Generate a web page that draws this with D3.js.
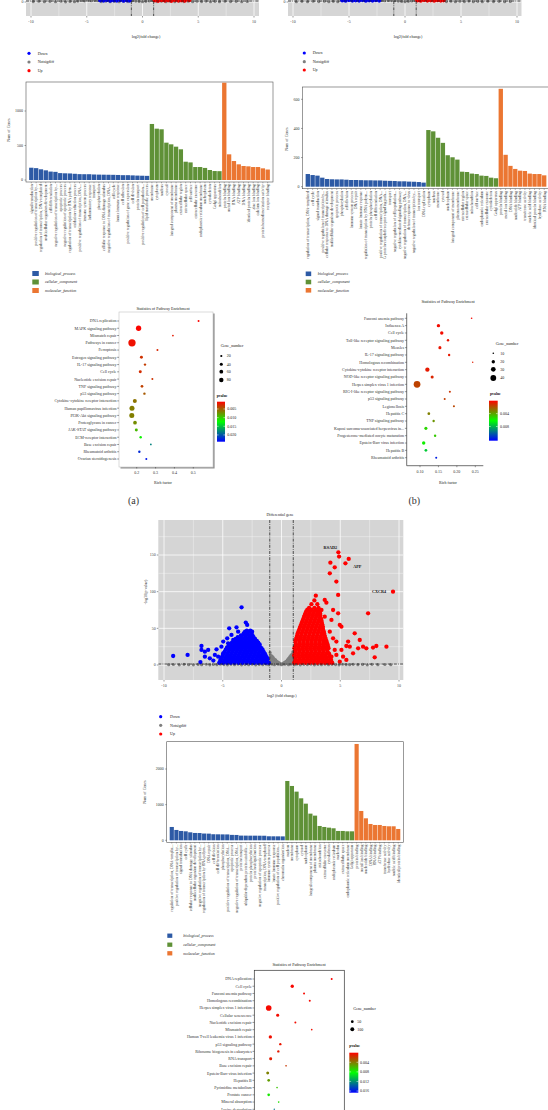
<!DOCTYPE html>
<html><head><meta charset="utf-8">
<script src="https://cdn.jsdelivr.net/npm/d3@7/dist/d3.min.js"></script>
<style>html,body{margin:0;padding:0;background:#fff;}svg{display:block;}</style>
</head><body>
<script>
// ================= DATA =================
const degNames = ["Down","Notsigdiff","Up"];
const goNames = ["biological_process","cellular_component","molecular_function"];

const volcXMajor = [-10,-5,0,5,10], volcXMinor = [-7.5,-2.5,2.5,7.5];
const volcYMajor = [0,50,100,150], volcYMinor = [25,75,125,175];

// top strips (only bottom of the two upper volcano plots is visible)
const stripA_grey = [[-9.8,0.6],[-9.3,1.0],[-8.8,0.4],[-8.3,0.9],[-7.8,0.5],[-7.3,1.1],[-6.9,0.3],[-6.5,0.8],[-6.1,0.5],[-5.8,1.2],[-5.5,2.2],[-5.2,1.6],[-4.9,2.4],[-4.6,1.8],[-4.3,2.3],[-4.0,1.9],[-3.7,0.6],[-3.3,1.0],[-2.9,0.5],[-2.5,0.9],[-2.1,0.4],[-1.7,1.0],[-1.3,0.6],[-0.9,1.8],[-0.6,1.3],[-0.3,0.8],[0,0.5],[0.3,0.9],[0.6,1.4],[0.9,2.0],[1.3,0.6],[1.7,1.0],[2.1,0.4],[2.5,0.9],[2.9,0.5],[3.3,1.0],[3.7,0.6],[4.1,1.1],[4.5,0.5],[4.9,1.0],[5.3,0.6],[5.7,1.2],[6.1,0.4],[6.5,0.9],[6.9,0.5],[7.4,1.0],[7.9,0.6],[8.4,0.9],[8.9,0.4],[9.4,0.8]];
const stripA_down = [[-3.8,2.3],[-3.5,1.9],[-3.2,2.6],[-2.9,1.8],[-2.6,2.4],[-2.3,2.0],[-2.0,2.7],[-1.7,1.8],[-1.4,2.4],[-1.15,2.0]];
const stripA_up = [[1.1,2.1],[1.4,1.7],[1.7,2.5],[2.0,1.9],[2.3,2.4],[2.6,1.7],[2.9,2.6],[3.2,2.0],[3.5,2.3],[3.8,1.8],[4.2,2.5]];
const stripB_grey = [[-9.7,0.5],[-9.2,0.9],[-8.7,0.4],[-8.2,1.0],[-7.7,0.6],[-7.2,1.1],[-6.8,0.4],[-6.4,0.9],[-6.0,0.5],[-2.1,2.1],[-1.8,1.7],[-1.5,2.3],[-1.2,1.9],[-0.9,1.8],[-0.6,1.3],[-0.3,0.8],[0,0.5],[0.3,0.9],[0.6,1.4],[0.9,2.0],[3.7,0.6],[4.1,1.1],[4.5,0.5],[4.9,1.0],[5.3,0.6],[5.7,1.2],[6.1,0.4],[6.5,0.9],[6.9,0.5],[7.4,1.0],[7.9,0.6],[8.4,0.9],[8.9,0.4],[9.4,0.8]];
const stripB_down = [[-5.6,2.2],[-5.3,1.8],[-5.0,2.6],[-4.7,1.9],[-4.4,2.4],[-4.1,2.0],[-3.8,2.7],[-3.5,1.8],[-3.2,2.4],[-2.9,2.0],[-2.6,2.5],[-2.3,1.9]];
const stripB_up = [[1.1,2.2],[1.4,1.8],[1.7,2.6],[2.0,1.9],[2.3,2.4],[2.6,1.8],[2.9,2.5],[3.2,2.0],[3.45,2.3]];

// central volcano plot  [log2FC, -log10 p]
const volcGrey = [[-9.6,0.4],[-9.2,0.7],[-8.7,0.3],[-8.3,0.9],[-7.9,0.5],[-7.5,0.2],[-7.1,0.8],[-6.8,0.4],[-6.4,1.0],[-6.1,0.3],[-5.8,0.7],[-5.5,0.4],[-5.2,1.0],[-4.9,0.6],[-4.6,0.2],[-4.3,0.9],[-4.0,0.5],[-3.7,1.1],[-3.4,0.3],[-3.1,0.8],[-2.8,0.5],[-2.5,1.1],[-2.2,0.3],[-1.9,0.8],[-1.6,0.5],[-1.3,1.0],[-1.1,0.4],
 [1.1,0.5],[1.3,1.0],[1.6,0.3],[1.9,0.9],[2.2,0.6],[2.5,1.1],[2.8,0.3],[3.1,0.8],[3.4,0.5],[3.7,1.0],[4.0,0.4],[4.3,0.9],[4.6,0.6],[4.9,0.2],[5.2,1.0],[5.5,0.6],[5.8,0.4],[6.1,0.9],[6.5,0.5],[6.9,0.8],[7.3,0.3],[7.7,0.9],[8.2,0.5],[8.8,0.7],[9.3,0.4],
 [-0.95,14],[-0.9,11],[-0.85,9],[-0.8,12],[-0.75,8],[-0.7,10],[-0.65,6],[-0.6,8],[-0.55,5],[-0.5,7],[-0.45,4],[-0.4,5],[-0.35,3],[-0.3,4],[-0.25,2],[-0.2,3],[-0.15,1.5],[-0.1,2],[-0.05,1],[0,0.5],[0.05,1],[0.1,2],[0.15,1.5],[0.2,3],[0.25,2.5],[0.3,4],[0.35,3.5],[0.4,5],[0.45,4.5],[0.5,7],[0.55,6],[0.6,9],[0.65,7],[0.7,11],[0.75,9],[0.8,13],[0.85,10],[0.9,15],[0.95,12],[-0.9,4],[-0.7,3],[-0.5,2],[-0.3,1],[0.3,1],[0.5,2],[0.7,3],[0.9,5],[-0.8,1],[0.8,1],[0.6,0.5],[-0.6,0.5],[0.97,18],[-0.97,17],
 [-0.9,7],[-0.75,5],[-0.6,3.5],[0.6,3.5],[0.75,5.5],[0.9,8],[0.85,4],[-0.85,3]];
const volcDownRows = [
 [3,[-5.3,-4.97,-4.64,-4.31,-3.98,-3.65,-3.32,-2.99,-2.66,-2.33,-2.0,-1.67,-1.34,-1.08]],
 [5.5,[-5.22,-4.89,-4.56,-4.23,-3.9,-3.57,-3.24,-2.91,-2.58,-2.25,-1.92,-1.59,-1.26]],
 [8,[-5.15,-4.81,-4.48,-4.15,-3.82,-3.49,-3.16,-2.83,-2.5,-2.17,-1.84,-1.51,-1.18]],
 [10.5,[-5.08,-4.73,-4.4,-4.07,-3.74,-3.41,-3.08,-2.75,-2.42,-2.09,-1.76,-1.43,-1.25]],
 [13,[-5.0,-4.65,-4.32,-3.99,-3.66,-3.33,-3.0,-2.67,-2.34,-2.01,-1.68,-1.35]],
 [15.5,[-4.92,-4.58,-4.25,-3.92,-3.59,-3.26,-2.93,-2.6,-2.27,-1.94,-1.6,-1.42]],
 [18,[-4.85,-4.5,-4.17,-3.84,-3.51,-3.18,-2.85,-2.52,-2.19,-1.86,-1.52]],
 [20.5,[-4.76,-4.41,-4.08,-3.75,-3.42,-3.09,-2.76,-2.43,-2.1,-1.77,-1.6]],
 [23,[-4.66,-4.32,-3.99,-3.66,-3.33,-3.0,-2.67,-2.34,-2.01,-1.7]],
 [25.5,[-4.52,-4.17,-3.84,-3.51,-3.18,-2.85,-2.52,-2.19,-1.86]],
 [28,[-4.38,-4.02,-3.69,-3.36,-3.03,-2.7,-2.37,-2.04,-1.86]],
 [30.5,[-4.22,-3.87,-3.54,-3.21,-2.88,-2.55,-2.22,-1.98]],
 [33,[-4.06,-3.72,-3.39,-3.06,-2.73,-2.4,-2.1]],
 [35.5,[-3.9,-3.55,-3.22,-2.89,-2.56,-2.25]],
 [38,[-3.72,-3.38,-3.05,-2.72,-2.38]],
 [40.5,[-3.45,-3.12,-2.79,-2.47]],
 [43,[-3.22,-2.89,-2.56]],
 [45.5,[-3.1,-2.8,-2.5]],
 [47,[-2.95,-2.65]]];
const volcDownOut = [[-3.40,78.7],[-3.04,57.8],[-2.92,54.6],[-3.83,51.4],[-4.45,50],[-3.69,45.5],[-4.26,41],[-4.62,36.4],[-4.96,31.9],[-4.54,29.6],[-5.11,25],[-4.62,24.1],[-5.53,21.4],[-5.67,13.7],[-6.24,20.5],[-6.52,18.2],[-6.81,25.9],[-6.81,20.5],[-6.10,9.1],[-6.52,11.4],[-7.99,13.7],[-9.22,12.3],[-5.39,11.4],[-4.96,15.9],[-4.11,34.1],[-5.8,6],[-6.9,4]];
const volcUpRows = [
 [3,[1.08,1.4,1.73,2.06,2.39,2.72,3.05,3.38,3.71,4.04,4.32]],
 [5.5,[1.15,1.48,1.81,2.14,2.47,2.8,3.13,3.46,3.79,4.12]],
 [8,[1.22,1.56,1.89,2.22,2.55,2.88,3.21,3.54,3.87,4.2]],
 [10.5,[1.15,1.49,1.82,2.15,2.48,2.81,3.14,3.47,3.8,4.12]],
 [13,[1.08,1.41,1.74,2.07,2.4,2.73,3.06,3.39,3.72,4.08]],
 [15.5,[1.14,1.47,1.81,2.15,2.49,2.83,3.17,3.51,3.85,4.05]],
 [18,[1.2,1.54,1.88,2.22,2.56,2.9,3.24,3.58,3.93]],
 [20.5,[1.15,1.49,1.83,2.17,2.51,2.85,3.19,3.53,3.87]],
 [23,[1.1,1.43,1.77,2.1,2.44,2.78,3.11,3.45,3.78,4.0]],
 [25.5,[1.17,1.5,1.85,2.19,2.53,2.87,3.21,3.55,3.88]],
 [28,[1.24,1.58,1.92,2.26,2.6,2.94,3.28,3.62,3.92]],
 [30.5,[1.2,1.55,1.89,2.23,2.57,2.91,3.25,3.59,3.86]],
 [33,[1.18,1.5,1.84,2.18,2.52,2.86,3.2,3.54,3.82]],
 [35.5,[1.25,1.58,1.92,2.26,2.6,2.94,3.28,3.62,3.76]],
 [38,[1.3,1.64,1.98,2.32,2.66,3.0,3.34,3.7]],
 [40.5,[1.34,1.68,2.02,2.36,2.7,3.04,3.38,3.66]],
 [43,[1.38,1.7,2.04,2.38,2.72,3.06,3.4,3.63]],
 [45.5,[1.44,1.78,2.12,2.46,2.8,3.14,3.48,3.6]],
 [48,[1.5,1.84,2.18,2.52,2.86,3.2,3.54]],
 [50.5,[1.56,1.9,2.24,2.58,2.92,3.26,3.52]],
 [53,[1.62,1.95,2.3,2.64,2.98,3.32,3.5]],
 [55.5,[1.68,2.02,2.36,2.7,3.04,3.38,3.46]],
 [58,[1.74,2.08,2.42,2.76,3.1,3.42]],
 [60.5,[1.8,2.14,2.48,2.82,3.16,3.4]],
 [63,[1.86,2.2,2.54,2.88,3.22,3.38]],
 [65.5,[1.92,2.26,2.6,2.94,3.28]],
 [68,[1.98,2.32,2.66,3.0,3.3]],
 [70.5,[2.04,2.38,2.72,3.06,3.28]],
 [73,[2.1,2.44,2.78,3.12,3.27]],
 [75.5,[2.2,2.55,2.9,3.22]],
 [78,[2.35,2.8,3.15]],
 [83,[2.55,3.05]],
 [88,[2.8]]];
const volcUpOut = [[2.92,94.6],[3.68,88.7],[3.82,85],[3.40,75],[3.17,72.8],[4.39,75],[4.82,70.5],[5.10,52.3],[4.96,54.6],[4.25,61.4],[3.68,65.9],[6.23,43.2],[6.66,34.1],[5.67,31.9],[7.37,70.5],[6.52,22.7],[5.81,25],[5.52,25.9],[5.10,20.5],[4.67,13.7],[5.24,11.4],[6.09,15.9],[6.94,25],[7.22,22.7],[7.79,23.7],[8.07,25.9],[8.93,25],[7.93,10.5],[4.16,139.6],[4.53,133.2],[4.11,125],[4.90,147.8],[4.84,153.7],[5.44,138.7],[5.72,144.6],[4.67,113.7],[4.82,95.5],[9.49,100],[4.25,4.6],[4.39,36.4],[4.11,45.5],[4.67,31.9],[3.96,25],[4.53,20.5],[4.96,4.6],[5.52,6.9],[4.25,11.4]];
const volcGenes = ["RSAD2","APP","CXCR4"];
const volcGeneFC = [4.84,5.72,9.49];
const volcGeneLogP = [153.7,144.6,100];

// GO bar chart A
const barA_BP = ["signal transduction","positive regulation of transcription by...","regulation of transcription, DNA-templated","multicellular organism development","cell differentiation","negative regulation of transcription by...","apoptotic process","negative regulation of apoptotic process","regulation of transcription by RNA polym...","oxidation-reduction process","positive regulation of transcription, DNA...","immune system process","inflammatory response","transport","phosphorylation","cellular response to DNA damage stimulus","negative regulation of transcription, DNA...","cell cycle","innate immune response","cell adhesion","positive regulation of gene expression","cell division","protein transport","positive regulation of cell population...","lipid metabolic process"];
const barA_BPn = [178,172,155,140,122,118,100,97,95,90,85,84,84,80,78,77,76,75,73,70,70,67,64,62,60];
const barA_CC = ["membrane","cytoplasm","nucleus","cytosol","integral component of membrane","plasma membrane","extracellular region","extracellular space","cell surface","extracellular exosome","endoplasmic reticulum membrane","nucleoplasm","cytoskeleton","Golgi apparatus","mitochondrion"];
const barA_CCn = [812,744,735,541,517,483,445,265,255,188,188,175,145,130,128];
const barA_MF = ["protein binding","metal ion binding","RNA binding","ATP binding","DNA binding","identical protein binding","zinc ion binding","calcium ion binding","protein homodimerization activity","receptor binding"];
const barA_MFn = [1410,372,275,227,203,198,188,188,169,152];
const barA_ticks = [0,500,1000];

// GO bar chart B
const barB_BP = ["regulation of transcription, DNA-templated","cell cycle","signal transduction","positive regulation of transcription by...","cellular response to DNA damage stimulus","multicellular organism development","apoptotic process","phosphorylation","cell division","immune system process","DNA repair","innate immune response","regulation of transcription by RNA polym...","protein phosphorylation","cell differentiation","positive regulation of transcription, DNA...","G protein-coupled receptor signaling path...","transport","negative regulation of cell population...","cytokine-mediated signaling pathway","negative regulation of transcription, DNA...","defense response to virus","negative regulation of transcription by...","ion transport","DNA replication"];
const barB_BPn = [87,80,76,62,53,51,50,50,48,46,46,45,44,44,43,43,41,40,39,37,37,35,34,32,28];
const barB_CC = ["cytoplasm","nucleus","membrane","cytosol","nucleoplasm","integral component of membrane","plasma membrane","extracellular region","extracellular space","mitochondrion","cell surface","endoplasmic reticulum","extracellular exosome","cytoskeleton","Golgi apparatus"];
const barB_CCn = [389,380,336,301,216,202,186,103,101,90,87,76,74,62,58];
const barB_MF = ["protein binding","metal ion binding","DNA binding","nucleotide binding","ATP binding","transferase activity","nucleic acid binding","identical protein binding","hydrolase activity","RNA binding"];
const barB_MFn = [672,219,143,122,110,108,90,87,87,78];
const barB_ticks = [0,200,400,600];

// GO bar chart C
const barC_BP = ["regulation of transcription, DNA-templat...","positive regulation of transcription by...","signal transduction","cell cycle","cellular response to DNA damage stimulus","multicellular organism development","negative regulation of transcription by...","regulation of transcription by RNA polym...","DNA repair","cell division","cell differentiation","phosphorylation","positive regulation of transcription, DNA...","apoptotic process","negative regulation of transcription, DNA...","protein transport","ubiquitin-dependent protein catabolic...","protein phosphorylation","protein ubiquitination","negative regulation of apoptotic process","transcription, DNA-templated","immune system process","innate immune response","positive regulation of cell population...","chromatin organization"];
const barC_BPn = [374,290,262,252,224,206,204,190,187,170,168,166,165,152,150,132,131,130,130,129,128,113,112,111,110];
const barC_CC = ["nucleus","membrane","cytoplasm","cytosol","nucleoplasm","integral component of membrane","plasma membrane","mitochondrion","extracellular exosome","cytoskeleton","endoplasmic reticulum","nucleolus","extracellular space","endoplasmic reticulum membrane","Golgi apparatus"];
const barC_CCn = [1664,1524,1365,1178,1028,748,692,402,374,355,337,262,262,252,252];
const barC_MF = ["protein binding","metal ion binding","nucleotide binding","DNA binding","RNA binding","ATP binding","transferase activity","hydrolase activity","nucleic acid binding","identical protein binding"];
const barC_MFn = [2702,823,617,458,430,430,402,393,393,318];
const barC_ticks = [0,1000,2000];

// KEGG bubble A
const bubA_path = ["DNA replication","MAPK signaling pathway","Mismatch repair","Pathways in cancer","Ferroptosis","Estrogen signaling pathway","IL-17 signaling pathway","Cell cycle","Nucleotide excision repair","TNF signaling pathway","p53 signaling pathway","Cytokine-cytokine receptor interaction","Human papillomavirus infection","PI3K-Akt signaling pathway","Proteoglycans in cancer","JAK-STAT signaling pathway","ECM-receptor interaction","Base excision repair","Rheumatoid arthritis","Ovarian steroidogenesis"];
const bubA_rich = [0.528,0.21,0.392,0.175,0.31,0.225,0.244,0.219,0.283,0.228,0.241,0.19,0.175,0.174,0.191,0.198,0.221,0.275,0.214,0.251];
const bubA_gene = [17,117,13,222,17,37,24,37,17,30,24,67,104,104,57,37,24,13,24,17];
const bubA_p = [0.001,0.001,0.002,0.0015,0.0025,0.003,0.0035,0.0028,0.003,0.0037,0.0048,0.006,0.0064,0.0065,0.0071,0.0091,0.0118,0.018,0.0221,0.023];
const bubA_xticks = [0.2,0.3,0.4,0.5];
const bubA_sizeLeg = [20,40,60,80];
const bubA_pLeg = [0.005,0.010,0.015,0.020];

// KEGG bubble B
const bubB_path = ["Fanconi anemia pathway","Influenza A","Cell cycle","Toll-like receptor signaling pathway","Measles","IL-17 signaling pathway","Homologous recombination","Cytokine-cytokine receptor interaction","NOD-like receptor signaling pathway","Herpes simplex virus 1 infection","RIG-I-like receptor signaling pathway","p53 signaling pathway","Legionellosis","Hepatitis C","TNF signaling pathway","Kaposi sarcoma-associated herpesvirus in...","Progesterone-mediated oocyte maturation","Epstein-Barr virus infection","Hepatitis B","Rheumatoid arthritis"];
const bubB_rich = [0.240,0.150,0.159,0.176,0.154,0.179,0.243,0.120,0.133,0.092,0.181,0.167,0.192,0.124,0.137,0.116,0.141,0.110,0.116,0.144];
const bubB_gene = [10,20,20,14,18,14,9,27,18,49,12,12,12,16,14,18,14,20,16,12];
const bubB_p = [0.0002,0.0003,0.0003,0.0005,0.0005,0.0006,0.0007,0.0006,0.0009,0.0016,0.0013,0.0015,0.0017,0.0031,0.0036,0.0052,0.0049,0.0058,0.0075,0.0117];
const bubB_xticks = [0.10,0.15,0.20,0.25];
const bubB_sizeLeg = [10,20,30,40];
const bubB_pLeg = [0.004,0.008];

// KEGG bubble C
const bubC_path = ["DNA replication","Cell cycle","Fanconi anemia pathway","Homologous recombination","Herpes simplex virus 1 infection","Cellular senescence","Nucleotide excision repair","Mismatch repair","Human T-cell leukemia virus 1 infection","p53 signaling pathway","Ribosome biogenesis in eukaryotes","RNA transport","Base excision repair","Epstein-Barr virus infection","Hepatitis B","Pyrimidine metabolism","Prostate cancer","Mineral absorption","Lysine degradation"];
const bubC_rich = [0.523,0.282,0.354,0.389,0.138,0.193,0.301,0.401,0.148,0.209,0.197,0.150,0.244,0.132,0.138,0.189,0.138,0.199,0.172];
const bubC_gene = [26,73,26,26,206,59,26,18,73,36,36,59,18,59,46,18,46,18,12];
const bubC_p = [0.0001,0.0002,0.0003,0.0003,0.0003,0.0004,0.0004,0.0005,0.0005,0.0007,0.0008,0.0009,0.0018,0.0042,0.0051,0.0064,0.0076,0.0073,0.013];
const bubC_sizeLeg = [50,100];
const bubC_pLeg = [0.004,0.008,0.012,0.016];

// ================= DRAWING =================
const W = 548, H = 1110;
const FONT = "'Liberation Serif','Times New Roman',serif";
const GO_COL = ["#2D5AA5","#5F9137","#EB7632"];
const DEG_COL = ["#0000FF","#7F7F7F","#FF0000"];
const svg = d3.select("body").append("svg").attr("width",W).attr("height",H).style("font-family",FONT);
svg.append("rect").attr("width",W).attr("height",H).attr("fill","#fff");
const defs = svg.append("defs");

function T(g,x,y,s,o={}){
  const t = g.append("text").attr("x",x).attr("y",y).attr("dy",o.dy||"0.35em")
    .attr("font-size",o.size||4).attr("text-anchor",o.anchor||"start")
    .attr("fill",o.fill||"#222").text(s);
  if(o.italic) t.attr("font-style","italic");
  if(o.bold) t.attr("font-weight","bold");
  if(o.rot) t.attr("transform",`rotate(${o.rot},${x},${y})`);
  return t;
}
function L(g,x1,y1,x2,y2,col,w,dash){
  const l = g.append("line").attr("x1",x1).attr("y1",y1).attr("x2",x2).attr("y2",y2).attr("stroke",col).attr("stroke-width",w);
  if(dash) l.attr("stroke-dasharray",dash);
  return l;
}

// ---------- volcano ----------
function drawVolcano(c){
  const g = svg.append("g");
  const x = d3.scaleLinear().domain([-10,10]).range(c.xr);
  const y = d3.scaleLinear().domain([0,150]).range([c.y0, c.y0-110]);
  const [pl,pr,pt,pb] = c.panel;
  defs.append("clipPath").attr("id",c.id).append("rect").attr("x",pl).attr("y",pt).attr("width",pr-pl).attr("height",pb-pt);
  g.append("rect").attr("x",pl).attr("y",pt).attr("width",pr-pl).attr("height",pb-pt).attr("fill","#D5D5D5");
  const cg = g.append("g").attr("clip-path",`url(#${c.id})`);
  volcXMinor.forEach(v=>L(cg,x(v),pt,x(v),pb,"#fff",0.35));
  volcYMinor.forEach(v=>L(cg,pl,y(v),pr,y(v),"#fff",0.35));
  volcXMajor.forEach(v=>L(cg,x(v),pt,x(v),pb,"#fff",0.75));
  volcYMajor.forEach(v=>L(cg,pl,y(v),pr,y(v),"#fff",0.75));
  const pts = (arr,col,r)=>cg.append("g").selectAll("circle").data(arr).join("circle")
      .attr("cx",d=>x(d[0])).attr("cy",d=>y(d[1])).attr("r",r).attr("fill",col);
  pts(c.grey,DEG_COL[1],1.6);
  pts(c.down,DEG_COL[0],2.15);
  pts(c.up,DEG_COL[2],2.15);
  [-1,1].forEach(v=>L(cg,x(v),pt,x(v),pb,"#111",0.7,"3,1.2,0.8,1.2"));
  const yt = y(-Math.log10(0.05));
  L(cg,pl,yt,pr,yt,"#111",0.7,"3,1.2,0.8,1.2");
  // axes
  volcXMajor.forEach(v=>{L(g,x(v),pb,x(v),pb+1.5,"#333",0.5); T(g,x(v),pb+6,String(v),{anchor:"middle",fill:"#444"});});
  volcYMajor.forEach(v=>{ if(y(v)>=Math.max(pt,1) && y(v)<=pb){ L(g,pl-1.5,y(v),pl,y(v),"#333",0.5); T(g,pl-2.5,y(v),String(v),{anchor:"end",fill:"#444"});} });
  T(g,c.xTitle[0],c.xTitle[1],c.xTitleText,{anchor:"middle"});
  if(c.yTitle) T(g,c.yTitle[0],c.yTitle[1],"-log10(p value)",{anchor:"middle",rot:-90});
  if(c.title) T(g,c.title[0],c.title[1],"Differential gene",{anchor:"middle"});
  if(c.genes){
    const off = [[-8,-5],[8.5,7.5],[-14,0.3]];
    c.genes.forEach((s,i)=>T(g,x(volcGeneFC[i])+off[i][0],y(volcGeneLogP[i])+off[i][1],s,{anchor:"middle",bold:true,fill:"#111",size:4.2}));
  }
}
function drawDegLegend(cx,ys,tx){
  const g = svg.append("g");
  degNames.forEach((s,i)=>{
    g.append("circle").attr("cx",cx).attr("cy",ys[i]).attr("r",1.6).attr("fill",DEG_COL[i]);
    T(g,tx,ys[i],s);
  });
}
const flatRows = rows => rows.flatMap(([yy,xs])=>xs.map(xx=>[xx,yy]));

// ---------- bars ----------
function drawBars(c){
  const g = svg.append("g");
  const labels = [...c.bp,...c.cc,...c.mf];
  const vals = [...c.bpn,...c.ccn,...c.mfn];
  const grp = [...c.bp.map(()=>0),...c.cc.map(()=>1),...c.mf.map(()=>2)];
  const x = d3.scaleBand().domain(d3.range(labels.length)).range([c.L,c.R]).paddingInner(0.1).paddingOuter(0.65);
  const y = d3.scaleLinear().domain([0,c.ticks[c.ticks.length-1]]).range(c.yPx);
  const y0 = y(0), B = y0+2;
  g.append("rect").attr("x",c.L).attr("y",c.top).attr("width",c.R-c.L).attr("height",B-c.top)
    .attr("fill","#fff").attr("stroke","#555").attr("stroke-width",0.6);
  g.append("g").selectAll("rect").data(vals).join("rect")
    .attr("x",(d,i)=>x(i)).attr("y",d=>y(d)).attr("width",x.bandwidth()).attr("height",d=>y0-y(d))
    .attr("fill",(d,i)=>GO_COL[grp[i]]);
  c.ticks.forEach(v=>{L(g,c.L-1.5,y(v),c.L,y(v),"#444",0.5); T(g,c.L-3,y(v),String(v),{anchor:"end",fill:"#333"});});
  labels.forEach((s,i)=>{
    const cx = x(i)+x.bandwidth()/2;
    L(g,cx,B,cx,B+1.3,"#444",0.4);
    T(g,cx,B+2.3,s,{anchor:"end",rot:-90,fill:"#333",size:3.9});
  });
  T(g,c.yTitle[0],c.yTitle[1],"Num of Genes",{anchor:"middle",rot:-90,fill:"#333"});
  goNames.forEach((s,i)=>{
    g.append("rect").attr("x",c.leg.x).attr("y",c.leg.ys[i]-c.leg.h/2).attr("width",c.leg.w).attr("height",c.leg.h).attr("fill",GO_COL[i]);
    T(g,c.leg.tx,c.leg.ys[i],s,{italic:true});
  });
}

// ---------- bubbles ----------
let gradN = 0;
function drawBubble(c){
  const g = svg.append("g");
  const x = d3.scaleLinear().domain(c.xd).range(c.xr);
  const y = d3.scalePoint().domain(c.names).range(c.yr);
  const r = d3.scaleSqrt().domain(c.sd).range(c.sr);
  const col = d3.scaleLinear().domain(c.cd).range(["#FF0000","#00FF00","#0000FF"]).clamp(true);
  const [pl,pr,pt,pb] = c.panel;
  if(c.style==="shadow"){
    g.append("rect").attr("x",pl).attr("y",pt).attr("width",pr-pl).attr("height",pb-pt).attr("fill","#fff").attr("stroke","#c4c4c4").attr("stroke-width",0.6);
    g.append("path").attr("d",`M${pr+0.9},${pt+1.5}V${pb+0.9}H${pl+1.5}`).attr("fill","none").attr("stroke","#8f8f8f").attr("stroke-width",1.4);
  } else if(c.style==="classic"){
    L(g,pl,pt,pl,pb,"#333",0.7); L(g,pl,pb,pr,pb,"#333",0.7);
  } else {
    g.append("rect").attr("x",pl).attr("y",pt).attr("width",pr-pl).attr("height",pb-pt).attr("fill","#fff").attr("stroke","#333").attr("stroke-width",0.7);
  }
  T(g,c.title[0],c.title[1],"Statistics of Pathway Enrichment",{anchor:"middle"});
  c.names.forEach(s=>{L(g,pl-1.8,y(s),pl,y(s),"#333",0.5); T(g,pl-2.6,y(s),s,{anchor:"end",fill:"#333"});});
  if(c.xticks){
    c.xticks.forEach(v=>{L(g,x(v),pb,x(v),pb+1.5,"#333",0.5); T(g,x(v),pb+5.5,d3.format(c.fmt)(v),{anchor:"middle",fill:"#333"});});
    T(g,c.xTitle[0],c.xTitle[1],"Rich factor",{anchor:"middle"});
  }
  g.append("g").selectAll("circle").data(c.names).join("circle")
    .attr("cx",(d,i)=>x(c.rich[i])).attr("cy",d=>y(d)).attr("r",(d,i)=>r(c.gene[i])).attr("fill",(d,i)=>col(c.p[i]));
  // size legend
  const ls = c.legS;
  T(g,ls.title[0],ls.title[1],"Gene_number",{fill:"#111"});
  ls.vals.forEach((v,i)=>{g.append("circle").attr("cx",ls.cx).attr("cy",ls.ys[i]).attr("r",r(v)).attr("fill","#000"); T(g,ls.tx,ls.ys[i],String(v));});
  // color legend
  const lc = c.legC;
  T(g,lc.title[0],lc.title[1],"pvalue",{fill:"#111",bold:true,size:3.8});
  const gid = "grad"+(gradN++);
  const grad = defs.append("linearGradient").attr("id",gid).attr("x1",0).attr("y1",0).attr("x2",0).attr("y2",1);
  d3.range(0,1.0001,0.05).forEach(t=>grad.append("stop").attr("offset",t).attr("stop-color",col(lc.pr[0]+(lc.pr[1]-lc.pr[0])*t)));
  g.append("rect").attr("x",lc.x).attr("y",lc.top).attr("width",lc.w).attr("height",lc.bot-lc.top).attr("fill",`url(#${gid})`);
  const py = d3.scaleLinear().domain(lc.pr).range([lc.top,lc.bot]);
  lc.vals.forEach(v=>{
    L(g,lc.x,py(v),lc.x+lc.w*0.2,py(v),"#fff",0.5);
    L(g,lc.x+lc.w*0.8,py(v),lc.x+lc.w,py(v),"#fff",0.5);
    T(g,lc.tx,py(v),d3.format(".3f")(v));
  });
  if(c.tag) T(g,c.tag[1],c.tag[2],c.tag[0],{anchor:"middle",size:10,fill:"#333",dy:"0"});
}

// ===== panel (a) / (b) top volcano strips =====
drawVolcano({id:"vA",xr:[31,254],y0:2,panel:[26,259,-160,16],grey:stripA_grey,down:stripA_down,up:stripA_up,xTitle:[146,37],xTitleText:"log2(fold change)"});
drawVolcano({id:"vB",xr:[293,517],y0:2,panel:[288,521.5,-160,16],grey:stripB_grey,down:stripB_down,up:stripB_up,xTitle:[408,37],xTitleText:"log2(fold change)"});
drawDegLegend(29,[53.3,62,70.7],37.7);
drawDegLegend(304.3,[53,61.7,70],312.7);

// ===== bar charts =====
drawBars({bp:barA_BP,bpn:barA_BPn,cc:barA_CC,ccn:barA_CCn,mf:barA_MF,mfn:barA_MFn,ticks:barA_ticks,
  L:26,R:273,top:82,yPx:[180,111],yTitle:[8.5,130],leg:{x:32.3,w:6.5,h:5,ys:[273.5,282,290.5],tx:45}});
drawBars({bp:barB_BP,bpn:barB_BPn,cc:barB_CC,ccn:barB_CCn,mf:barB_MF,mfn:barB_MFn,ticks:barB_ticks,
  L:302.5,R:549.5,top:87,yPx:[186.7,99.3],yTitle:[286.5,139],leg:{x:305.7,w:5.5,h:4.6,ys:[273.8,282,290.3],tx:317.7}});
drawBars({bp:barC_BP,bpn:barC_BPn,cc:barC_CC,ccn:barC_CCn,mf:barC_MF,mfn:barC_MFn,ticks:barC_ticks,
  L:166.7,R:403.3,top:741.7,yPx:[840.3,769],yTitle:[144.3,792],leg:{x:167.3,w:5,h:4.3,ys:[935.7,944.7,953.3],tx:183.3}});

// ===== bubbles =====
drawBubble({names:bubA_path,rich:bubA_rich,gene:bubA_gene,p:bubA_p,xd:[0.2,0.5],xr:[136.7,193.3],yr:[321,459],
  panel:[119,213,312,467],style:"shadow",title:[163,308.3],xticks:bubA_xticks,fmt:".1f",xTitle:[163,483],
  sd:[0,100],sr:[0,2.45],cd:[0.0008,0.0123,0.0239],
  legS:{title:[220.7,346],cx:221.3,ys:[356,364.3,371.7,380],tx:226.7,vals:bubA_sizeLeg},
  legC:{title:[216.7,396],x:217,w:8,top:401.7,bot:441.7,pr:[0.0008,0.0239],vals:bubA_pLeg,tx:227.3},
  tag:["(a)",133.5,503.5]});
drawBubble({names:bubB_path,rich:bubB_rich,gene:bubB_gene,p:bubB_p,xd:[0.10,0.25],xr:[420,475.3],yr:[318.3,457.7],
  panel:[406.7,483.3,313.3,465.7],style:"classic",title:[448,302],xticks:bubB_xticks,fmt:".2f",xTitle:[448,483],
  sd:[8,50],sr:[0.6,3.4],cd:[0,0.0062,0.0124],
  legS:{title:[495.7,343.3],cx:493.3,ys:[353.3,361.7,369.3,378],tx:500.3,vals:bubB_sizeLeg},
  legC:{title:[490,394],x:489,w:8.7,top:400.7,bot:440.7,pr:[0,0.0124],vals:bubB_pLeg,tx:500},
  tag:["(b)",414.3,503.5]});

// ===== central volcano =====
drawVolcano({id:"vC",xr:[164,399],y0:665,panel:[158.3,403.3,520,680],grey:volcGrey,
  down:[...flatRows(volcDownRows),...volcDownOut],up:[...flatRows(volcUpRows),...volcUpOut],
  xTitle:[281.7,696],xTitleText:"log2 (fold change)",yTitle:[145.3,592],title:[280,515],genes:volcGenes});
drawDegLegend(160.7,[716.7,725.3,734],170);

drawBubble({names:bubC_path,rich:bubC_rich,gene:bubC_gene,p:bubC_p,xd:[0.05,0.6],xr:[254.3,344.3],yr:[979,1109.3],
  panel:[254.3,344.3,970.3,1130],style:"box",title:[299,965],
  sd:[0,100],sr:[0,1.95],cd:[0,0.0083,0.0167],
  legS:{title:[353.3,1009],cx:352.3,ys:[1021.7,1029.3],tx:357.3,vals:bubC_sizeLeg},
  legC:{title:[349.3,1046],x:349.3,w:9,top:1052.7,bot:1092.7,pr:[0,0.0167],vals:bubC_pLeg,tx:360}});
</script>
</body></html>
